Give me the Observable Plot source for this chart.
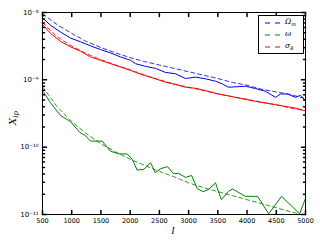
<!DOCTYPE html>
<html><head><meta charset="utf-8">
<script src="https://cdn.jsdelivr.net/npm/d3@7"></script>
<script src="https://cdn.jsdelivr.net/npm/@observablehq/plot@0.6"></script>
<style>
body{margin:0;background:#fff;}
#wrap{position:relative;width:320px;height:240px;}
#legend{position:absolute;left:258px;top:15px;width:46px;height:39px;border:1px solid #000;background:#fff;box-sizing:border-box;font-family:"DejaVu Serif",serif;font-style:italic;font-size:7.5px;}
.row{position:absolute;left:0;height:10px;}
.row svg{position:absolute;left:6px;top:1px;}
.row span{position:absolute;left:26px;top:-2px;white-space:nowrap;}
sub{font-size:5px;vertical-align:-2px;}
</style></head><body><div id="wrap"></div>
<script>
// x ticks (multipole l) and y decades
const xTicks = [500,1000,1500,2000,2500,3000,3500,4000,4500,5000];
const yDecades = [1e-11,1e-10,1e-9,1e-8];

// log10(X_ip) values
const omL = [500,637,808,979,1150,1321,1492,1663,1835,2006,2091,2262,2433,2604,2776,2947,3118,3289,3460,3575,3683,3974,4145,4316,4487,4572,4692,4829,4914,5000];
const omSolid = [-8.08,-8.19,-8.29,-8.38,-8.435,-8.495,-8.55,-8.60,-8.66,-8.71,-8.76,-8.80,-8.83,-8.89,-8.91,-8.98,-8.96,-8.985,-9.02,-9.06,-9.11,-9.095,-9.13,-9.17,-9.26,-9.21,-9.21,-9.26,-9.23,-9.31];
const fitL = [500,750,1000,1250,1500,1750,2000,2250,2500,2750,3000,3250,3500,3750,4000,4250,4500,4750,5000];
const omFit = [-8.02,-8.18,-8.31,-8.43,-8.52,-8.60,-8.67,-8.73,-8.78,-8.83,-8.88,-8.93,-8.98,-9.04,-9.08,-9.14,-9.18,-9.22,-9.28];

const s8L = [500,637,808,979,1150,1321,1492,1663,1835,2006,2091,2262,2433,2604,2776,2947,3118,3289,3460,3800,4145,4487,4829,5000];
const s8Solid = [-8.18,-8.31,-8.43,-8.51,-8.575,-8.66,-8.71,-8.76,-8.81,-8.86,-8.89,-8.94,-8.985,-9.035,-9.07,-9.11,-9.125,-9.16,-9.20,-9.26,-9.32,-9.37,-9.42,-9.46];
const s8Fit = [-8.15,-8.36,-8.50,-8.61,-8.70,-8.78,-8.85,-8.93,-9.00,-9.06,-9.11,-9.16,-9.21,-9.25,-9.29,-9.33,-9.37,-9.42,-9.46];

const wL = [500,637,808,979,1138,1236,1321,1521,1663,1805,1949,2035,2120,2233,2348,2430,2520,2640,2740,2830,2950,3050,3150,3250,3340,3460,3560,3680,3750,3970,4180,4370,4590,4900,5000];
const wSolid = [-9.16,-9.34,-9.53,-9.62,-9.78,-9.83,-9.91,-9.91,-10.06,-10.10,-10.10,-10.18,-10.34,-10.33,-10.23,-10.38,-10.32,-10.29,-10.39,-10.39,-10.45,-10.42,-10.62,-10.66,-10.63,-10.53,-10.78,-10.66,-10.62,-10.73,-10.73,-10.99,-10.73,-10.99,-10.76];
const wFit = [-9.10,-9.40,-9.62,-9.80,-9.95,-10.07,-10.18,-10.27,-10.36,-10.44,-10.53,-10.60,-10.66,-10.72,-10.78,-10.84,-10.90,-10.96,-11.02];

const colors = {om:"#0000ff", w:"#008000", s8:"#ff0000"};
const rows = (L, E) => L.map((l, i) => ({l, v: Math.pow(10, E[i])}));

const yMinor = d3.scaleLog().domain([1e-11,1e-8]).ticks().filter(t => !yDecades.some(d => Math.abs(d - t) / d < 1e-6));
const tickShape = {draw(ctx, l) { ctx.moveTo(0, 0); ctx.lineTo(0, -l); }};
const sup = {"-":"⁻","0":"⁰","1":"¹","8":"⁸","9":"⁹"};
const fmt = d => "10" + String(Math.round(Math.log10(d))).split("").map(c => sup[c]).join("");

const lineOpts = (c, dashed) => ({x:"l", y:"v", stroke:c, strokeWidth:1, clip:true, ...(dashed ? {strokeDasharray:"4,3", strokeOpacity:0.8} : {})});

const chart = Plot.plot({
  width: 320, height: 240,
  marginLeft: 42, marginRight: 15, marginTop: 12, marginBottom: 26,
  style: {fontFamily: "DejaVu Sans", fontSize: "6.5px", color: "#000", background: "#fff"},
  x: {domain: [500, 5000]},
  y: {type: "log", domain: [1e-11, 1e-8]},
  marks: [
    Plot.line(rows(omL, omSolid), lineOpts(colors.om, false)),
    Plot.line(rows(fitL, omFit), lineOpts(colors.om, true)),
    Plot.line(rows(s8L, s8Solid), lineOpts(colors.s8, false)),
    Plot.line(rows(fitL, s8Fit), lineOpts(colors.s8, true)),
    Plot.line(rows(wL, wSolid), lineOpts(colors.w, false)),
    Plot.line(rows(fitL, wFit), lineOpts(colors.w, true)),
    Plot.frame({stroke: "#000", strokeWidth: 1}),
    Plot.axisX({ticks: xTicks, tickSize: 0, tickPadding: 4, label: null, tickFormat: d => String(d)}),
    Plot.axisY({ticks: yDecades, tickSize: 0, tickPadding: 4, label: null, tickFormat: fmt, fontSize: 7}),
    Plot.vector(xTicks, {x: d => d, y: () => 1e-11, length: 4, rotate: 0, anchor: "start", shape: tickShape, stroke: "#000"}),
    Plot.vector(xTicks, {x: d => d, y: () => 1e-8, length: 4, rotate: 180, anchor: "start", shape: tickShape, stroke: "#000"}),
    Plot.vector(yDecades, {x: () => 500, y: d => d, length: 4, rotate: 90, anchor: "start", shape: tickShape, stroke: "#000"}),
    Plot.vector(yDecades, {x: () => 5000, y: d => d, length: 4, rotate: -90, anchor: "start", shape: tickShape, stroke: "#000"}),
    Plot.vector(yMinor, {x: () => 500, y: d => d, length: 2, rotate: 90, anchor: "start", shape: tickShape, stroke: "#000"}),
    Plot.vector(yMinor, {x: () => 5000, y: d => d, length: 2, rotate: -90, anchor: "start", shape: tickShape, stroke: "#000"})
  ]
});

const svg = d3.select(chart);
const yl = svg.append("text").attr("transform", "translate(16,118) rotate(-90)")
  .attr("text-anchor", "middle").attr("font-family", "DejaVu Serif").attr("font-style", "italic").attr("font-size", 10);
yl.append("tspan").text("X");
yl.append("tspan").attr("font-size", 7).attr("dy", 2).text("ip");
svg.append("text").attr("x", 173).attr("y", 234).attr("text-anchor", "middle")
  .attr("font-family", "DejaVu Serif").attr("font-style", "italic").attr("font-size", 10).text("l");

const wrap = document.getElementById("wrap");
wrap.appendChild(chart);

const legend = document.createElement("div");
legend.id = "legend";
const entries = [
  {c: colors.om, html: "Ω<sub>m</sub>"},
  {c: colors.w, html: "ω"},
  {c: colors.s8, html: "σ<sub>8</sub>"}
];
entries.forEach((e, i) => {
  const r = document.createElement("div");
  r.className = "row";
  r.style.top = (3 + i * 12) + "px";
  r.innerHTML = `<svg width="16" height="6"><line x1="0" y1="3" x2="16" y2="3" stroke="${e.c}" stroke-width="1" stroke-dasharray="5,5"/></svg><span>${e.html}</span>`;
  legend.appendChild(r);
});
wrap.appendChild(legend);
</script></body></html>
